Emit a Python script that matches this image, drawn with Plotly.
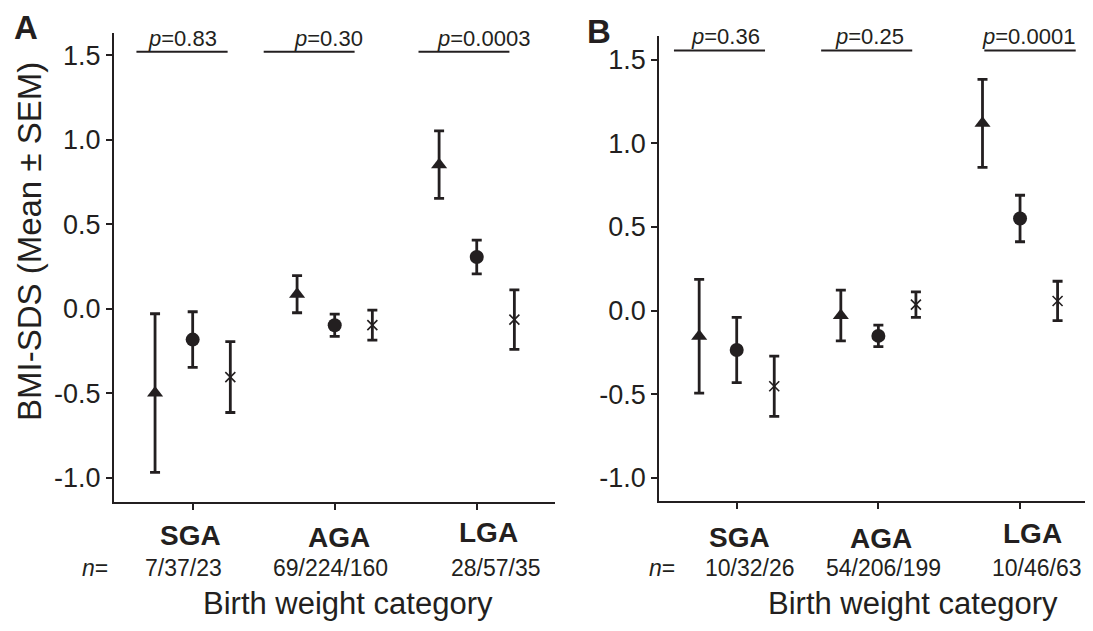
import plotly.graph_objects as go

# ---------------- data ----------------
categories = ["SGA", "AGA", "LGA"]
cat_pos = [1, 2, 3]

# Panel A
A_tri_mean = [-0.50, 0.086, 0.853]
A_tri_sem = [0.47, 0.11, 0.20]
A_cir_mean = [-0.183, -0.098, 0.306]
A_cir_sem = [0.165, 0.066, 0.10]
A_crs_mean = [-0.405, -0.097, -0.065]
A_crs_sem = [0.21, 0.089, 0.176]
A_n = ["7/37/23", "69/224/160", "28/57/35"]
A_p = ["0.83", "0.30", "0.0003"]

# Panel B
B_tri_mean = [-0.154, -0.03, 1.119]
B_tri_sem = [0.34, 0.152, 0.263]
B_cir_mean = [-0.236, -0.152, 0.55]
B_cir_sem = [0.195, 0.064, 0.139]
B_crs_mean = [-0.453, 0.035, 0.057]
B_crs_sem = [0.18, 0.076, 0.118]
B_n = ["10/32/26", "54/206/199", "10/46/63"]
B_p = ["0.36", "0.25", "0.0001"]

yticks = [-1.0, -0.5, 0.0, 0.5, 1.0, 1.5]

# ---------------- style / layout ----------------
PAGE_OFF = 8            # page body margin
W, H = 1093 - PAGE_OFF, 631 - PAGE_OFF
INK = "#231f20"
FONT = "Liberation Sans, Arial, Helvetica, sans-serif"
OFF = 0.265


def px(x):
    return (x - PAGE_OFF) / W


def py(y):
    return 1 - (y - PAGE_OFF) / H


fig = go.Figure()

markers = [
    dict(symbol="triangle-up", size=14, color=INK),
    dict(symbol="circle", size=14, color=INK),
    dict(symbol="x-thin-open", size=10, color=INK, line=dict(width=1.6, color=INK)),
]

panels = [
    ("x", "y", [(A_tri_mean, A_tri_sem), (A_cir_mean, A_cir_sem), (A_crs_mean, A_crs_sem)]),
    ("x2", "y2", [(B_tri_mean, B_tri_sem), (B_cir_mean, B_cir_sem), (B_crs_mean, B_crs_sem)]),
]

for xa, ya, series in panels:
    for k, (m, s) in enumerate(series):
        off = (k - 1) * OFF
        fig.add_trace(go.Scatter(
            x=[c + off for c in cat_pos], y=m, mode="markers",
            marker=markers[k],
            error_y=dict(type="data", array=s, visible=True, color=INK,
                         thickness=2.8, width=5),
            xaxis=xa, yaxis=ya, showlegend=False, hoverinfo="skip",
        ))

axis_common = dict(showline=True, linewidth=2, linecolor=INK, ticks="outside",
                   ticklen=6, tickwidth=2, tickcolor=INK, showgrid=False,
                   zeroline=False, mirror=False)

fig.update_layout(
    width=W, height=H, margin=dict(l=0, r=0, t=0, b=0),
    paper_bgcolor="white", plot_bgcolor="white",
    font=dict(family=FONT, color=INK),
    xaxis=dict(domain=[px(114), px(555)], range=[0.446, 3.551], tickvals=cat_pos,
               showticklabels=False, anchor="y", **axis_common),
    yaxis=dict(domain=[py(502), py(33)], range=[-1.145, 1.633], tickvals=yticks,
               ticktext=["%.1f" % v for v in yticks], anchor="x",
               tickfont=dict(size=27, family=FONT, color=INK), ticklabelstandoff=0,
               **axis_common),
    xaxis2=dict(domain=[px(659.3), 1.0], range=[0.4536, 3.515], tickvals=cat_pos,
                showticklabels=False, anchor="y2", **axis_common),
    yaxis2=dict(domain=[py(501), py(35.7)], range=[-1.139, 1.643], tickvals=yticks,
                ticktext=["%.1f" % v for v in yticks], anchor="x2",
                tickfont=dict(size=27, family=FONT, color=INK), ticklabelstandoff=0,
                **axis_common),
)

# significance lines and p-values
sig = [
    ("x", "y", A_p, [(0.604, 1.246), (1.50, 2.14), (2.59, 3.23)], [0.928, 1.957, 3.05], 1.522, 1.60),
    ("x2", "y2", B_p, [(0.557, 1.20), (1.596, 2.239), (2.748, 3.393)], [0.924, 1.934, 3.062], 1.555, 1.64),
]
for xa, ya, pv, spans, tx, yl, yt in sig:
    for (x0, x1), t, p in zip(spans, tx, pv):
        fig.add_shape(type="line", xref=xa, yref=ya, x0=x0, x1=x1, y0=yl, y1=yl,
                      line=dict(color=INK, width=2))
        fig.add_annotation(xref=xa, yref=ya, x=t, y=yt, text="<i>p</i>=" + p,
                           showarrow=False, xanchor="center", yanchor="middle",
                           font=dict(size=22, family=FONT, color=INK))


def ptext(x, y, text, size, **kw):
    fig.add_annotation(xref="paper", yref="paper", x=px(x), y=py(y), text=text,
                       showarrow=False, xanchor="center", yanchor="middle",
                       font=dict(size=size, family=FONT, color=INK), **kw)


# category labels, n labels, axis titles
labels = [
    ([190, 339, 488], [535, 537, 532], [183, 330, 496], 95, A_n, 348),
    ([739, 881, 1032], [537, 538, 533], [750, 883, 1037], 662, B_n, 913),
]
for cx, cy, nx, nlx, nl, tx in labels:
    for c, x, y in zip(categories, cx, cy):
        ptext(x, y, "<b>%s</b>" % c, 28)
    for t, x in zip(nl, nx):
        ptext(x, 568, t, 23)
    ptext(nlx, 568, "<i>n</i>=", 23)
    ptext(tx, 603, "Birth weight category", 31)

ptext(29, 242, "BMI-SDS (Mean ± SEM)", 33, textangle=-90)

# panel letters
ptext(26, 28, "<b>A</b>", 33)
ptext(599, 31, "<b>B</b>", 33)

fig.write_html("out.html")
